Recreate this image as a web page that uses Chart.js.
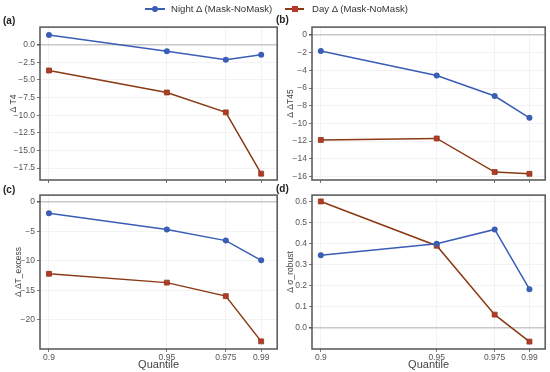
<!DOCTYPE html>
<html>
<head>
<meta charset="utf-8">
<script src="https://cdn.jsdelivr.net/npm/chart.js@4"></script>
<style>
  body { margin: 0; background: #fff; font-family: "Liberation Sans", Arial, sans-serif; }
  #wrap { position: relative; width: 550px; height: 372px; overflow: hidden; }
  canvas { position: absolute; }
  .lbl { position: absolute; font-size: 10px; font-weight: bold; color: #222; z-index: 2; }
  .lg { position: absolute; font-size: 9.6px; color: #333; top: 3px; white-space: nowrap; z-index: 2; }
  .ln { position: absolute; top: 8px; height: 2px; z-index: 2; }
  .mk { position: absolute; top: 6px; width: 6px; height: 6px; z-index: 3; }
</style>
</head>
<body>
<div id="wrap">
  <div class="ln" style="left:145px;width:20px;background:#3a5db5"></div>
  <div class="mk" style="left:152px;background:#3a5db5;border-radius:50%"></div>
  <div class="lg" style="left:171px">Night Δ (Mask-NoMask)</div>
  <div class="ln" style="left:285px;width:19px;background:#8b3a14"></div>
  <div class="mk" style="left:292px;background:#b5382a"></div>
  <div class="lg" style="left:312px">Day Δ (Mask-NoMask)</div>
  <div class="lbl" style="left:3px;top:15px">(a)</div>
  <div class="lbl" style="left:276px;top:14px">(b)</div>
  <div class="lbl" style="left:3px;top:184px">(c)</div>
  <div class="lbl" style="left:276px;top:183px">(d)</div>
  <canvas id="ca" width="282" height="170" style="left:0;top:20px"></canvas>
  <canvas id="cb" width="278" height="170" style="left:272px;top:20px"></canvas>
  <canvas id="cc" width="282" height="184" style="left:0;top:188px"></canvas>
  <canvas id="cd" width="278" height="184" style="left:272px;top:188px"></canvas>
</div>
<script>
const quantiles = [0.9, 0.95, 0.975, 0.99];

const nightT4 = [1.38, -0.93, -2.15, -1.43];
const dayT4 = [-3.66, -6.78, -9.6, -18.3];
const ticksT4 = [-17.5, -15, -12.5, -10, -7.5, -5, -2.5, 0];

const nightT45 = [-1.8, -4.57, -6.9, -9.37];
const dayT45 = [-11.87, -11.7, -15.5, -15.7];
const ticksT45 = [-16, -14, -12, -10, -8, -6, -4, -2, 0];

const nightExcess = [-1.9, -4.66, -6.55, -9.9];
const dayExcess = [-12.2, -13.7, -16.0, -23.7];
const ticksExcess = [-20, -15, -10, -5, 0];

const nightSigma = [0.345, 0.399, 0.467, 0.184];
const daySigma = [0.6, 0.39, 0.063, -0.065];
const ticksSigma = [0, 0.1, 0.2, 0.3, 0.4, 0.5, 0.6];

const NIGHT = '#3a5db5';
const DAY_LINE = '#8b3a14';
const DAY_MARK = '#b5382a';
const FONT = '"Liberation Sans", Arial, sans-serif';

// full box round the plot area
const frame = {
  id: 'frame',
  afterDraw(chart) {
    const a = chart.chartArea, c = chart.ctx;
    c.save();
    c.strokeStyle = '#555';
    c.lineWidth = 1.5;
    c.strokeRect(a.left, a.top, a.right - a.left, a.bottom - a.top);
    c.restore();
  }
};

function minus(v) { return String(v).replace('-', '\u2212'); }

function makePanel(id, night, day, yTicks, yMin, yMax, decimals, yTitle, showX, pad) {
  const pts = q => quantiles.map((x, i) => ({ x: x, y: q[i] }));
  new Chart(document.getElementById(id), {
    type: 'line',
    data: {
      datasets: [{
        data: pts(night),
        borderColor: NIGHT, backgroundColor: NIGHT,
        borderWidth: 1.5, pointRadius: 3, pointStyle: 'circle',
        pointBorderWidth: 0, tension: 0
      }, {
        data: pts(day),
        borderColor: DAY_LINE, backgroundColor: DAY_MARK,
        pointBorderColor: DAY_LINE, pointBorderWidth: 0.8,
        borderWidth: 1.5, pointRadius: 3.5, pointStyle: 'rect', tension: 0
      }]
    },
    options: {
      responsive: false,
      animation: false,
      layout: { padding: pad },
      plugins: { legend: { display: false }, tooltip: { enabled: false } },
      scales: {
        x: {
          type: 'linear', min: 0.8962, max: 0.9968,
          afterBuildTicks: s => { s.ticks = quantiles.map(v => ({ value: v })); },
          afterFit: s => { s.height = showX ? 23 : 10; },
          grid: { color: '#f0f0f0', lineWidth: 0.8, tickLength: 3, tickColor: '#555' },
          border: { display: false },
          ticks: {
            display: showX, padding: 1, color: '#555',
            font: { family: FONT, size: 8.5 },
            callback: v => String(v)
          },
          title: {
            display: showX, text: 'Quantile', color: '#444',
            font: { family: FONT, size: 11 }, padding: 0
          }
        },
        y: {
          min: yMin, max: yMax,
          afterBuildTicks: s => { s.ticks = yTicks.map(v => ({ value: v })); },
          afterFit: s => { s.width = 40 - pad.left; },
          grid: {
            color: c => c.tick && c.tick.value === 0 ? '#c8c8c8' : '#f0f0f0',
            lineWidth: c => c.tick && c.tick.value === 0 ? 1.5 : 0.8,
            tickLength: 3, tickColor: '#555'
          },
          border: { display: false },
          ticks: {
            padding: 2, color: '#555',
            font: { family: FONT, size: 8.5 },
            callback: v => minus(decimals ? v.toFixed(decimals) : String(v))
          },
          title: {
            display: true, text: yTitle, color: '#444',
            font: { family: FONT, size: 8.5 }, padding: 0
          }
        }
      }
    },
    plugins: [frame]
  });
}

makePanel('ca', nightT4, dayT4, ticksT4, -19.2, 2.5, 1, 'Δ T4', false, { top: 4, right: 4, left: 9, bottom: 0 });
makePanel('cb', nightT45, dayT45, ticksT45, -16.4, 0.9, 0, 'Δ ΔT45', false, { top: 4, right: 3, left: 14, bottom: 0 });
makePanel('cc', nightExcess, dayExcess, ticksExcess, -25, 1.2, 0, 'Δ ΔT_excess', true, { top: 5, right: 4, left: 14, bottom: 0 });
makePanel('cd', nightSigma, daySigma, ticksSigma, -0.1, 0.63, 1, 'Δ σ_robust', true, { top: 5, right: 3, left: 14, bottom: 0 });
</script>
</body>
</html>
